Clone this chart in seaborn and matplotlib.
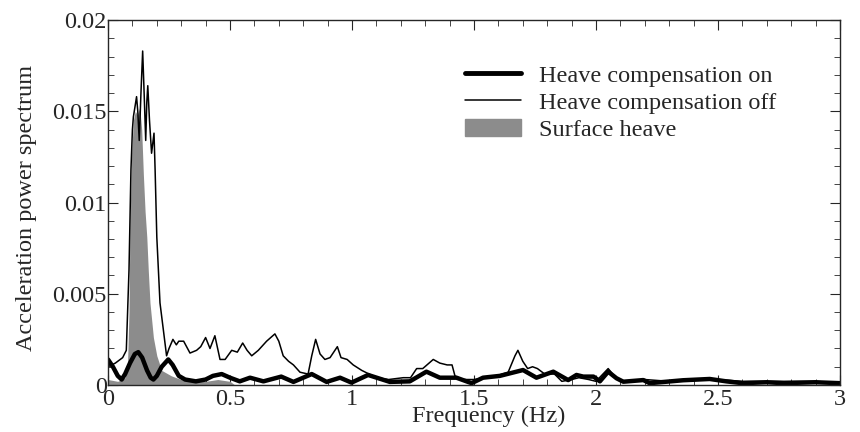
import seaborn as sns
import matplotlib
matplotlib.use('Agg')
import matplotlib.pyplot as plt
from matplotlib.ticker import MultipleLocator, FuncFormatter
from matplotlib.patches import Patch
from matplotlib.lines import Line2D

# heave compensation off (thin line)
off_f = [0.00, 0.03, 0.06, 0.075, 0.086, 0.094, 0.100, 0.104, 0.110, 0.117, 0.122, 0.128,
         0.135, 0.142, 0.148, 0.1545, 0.159, 0.163, 0.170, 0.1785, 0.1885, 0.193, 0.200,
         0.213, 0.227, 0.240, 0.250, 0.266, 0.28, 0.29, 0.31, 0.336, 0.363, 0.38, 0.40,
         0.418, 0.438, 0.459, 0.48, 0.507, 0.53, 0.552, 0.57, 0.589, 0.616, 0.65, 0.684,
         0.70, 0.718, 0.74, 0.76, 0.787, 0.82, 0.835, 0.851, 0.869, 0.889, 0.91, 0.94,
         0.955, 0.98, 1.005, 1.04, 1.07, 1.10, 1.15, 1.21, 1.24, 1.265, 1.29, 1.333,
         1.36, 1.39, 1.41, 1.422, 1.45, 1.50, 1.55, 1.593, 1.64, 1.668, 1.68, 1.70,
         1.72, 1.74, 1.76, 1.79, 1.83, 1.86, 1.90, 1.93, 1.97, 2.00, 2.05, 2.08, 2.12,
         2.2, 2.3, 2.4, 2.5, 2.6, 2.7, 2.8, 2.9, 3.0]
off_v = [0.0010, 0.0012, 0.0015, 0.0019, 0.0063, 0.0118, 0.0140, 0.0147, 0.0152, 0.0158,
         0.0150, 0.0134, 0.0160, 0.0183, 0.0160, 0.0134, 0.0155, 0.0164, 0.0145, 0.0127,
         0.0138, 0.0118, 0.0081, 0.0045, 0.0030, 0.0016, 0.0020, 0.0025, 0.0022, 0.0024,
         0.0024, 0.00175, 0.0019, 0.0021, 0.0026, 0.0020, 0.0027, 0.0014, 0.0014, 0.0019,
         0.0018, 0.0023, 0.0019, 0.0016, 0.0019, 0.0024, 0.0028, 0.0024, 0.0016, 0.0013,
         0.0011, 0.0007, 0.0006, 0.0016, 0.0025, 0.0017, 0.0014, 0.0015, 0.0021, 0.0015,
         0.0014, 0.0011, 0.0008, 0.0006, 0.0004, 0.0003, 0.0004, 0.0004, 0.0009, 0.0009,
         0.0014, 0.0012, 0.0011, 0.0011, 0.0005, 0.0003, 0.0003, 0.0004, 0.0005, 0.0007,
         0.0016, 0.0019, 0.0013, 0.0009, 0.0010, 0.0009, 0.0006, 0.0006, 0.0002, 0.0003,
         0.0004, 0.0003, 0.0002, 0.0009, 0.0004, 0.0002, 0.0003, 0.0002, 0.0003, 0.0003,
         0.0002, 0.0002, 0.0002, 0.0002, 0.0001]

# heave compensation on (thick line)
on_f = [0.00, 0.02, 0.04, 0.056, 0.07, 0.09, 0.11, 0.124, 0.14, 0.16, 0.175, 0.186, 0.20,
        0.22, 0.247, 0.265, 0.29, 0.316, 0.36, 0.40, 0.43, 0.466, 0.50, 0.54, 0.582,
        0.637, 0.71, 0.76, 0.835, 0.896, 0.951, 0.998, 1.066, 1.155, 1.237, 1.305, 1.36,
        1.428, 1.49, 1.537, 1.606, 1.701, 1.756, 1.825, 1.886, 1.92, 1.948, 1.99, 2.016,
        2.05, 2.084, 2.112, 2.194, 2.22, 2.357, 2.466, 2.534, 2.6, 2.7, 2.77, 2.9, 3.0]
on_v = [0.0014, 0.0010, 0.0005, 0.0003, 0.0006, 0.0012, 0.0017, 0.0018, 0.0015, 0.0008,
        0.0004, 0.0003, 0.0005, 0.0010, 0.0014, 0.0011, 0.0005, 0.0003, 0.0002, 0.0003,
        0.0005, 0.0006, 0.0004, 0.0002, 0.0004, 0.0002, 0.00046, 0.00017, 0.0006, 0.00017,
        0.0004, 0.00013, 0.00055, 0.00017, 0.0002, 0.00073, 0.0004, 0.0004, 0.0001, 0.0004,
        0.0005, 0.00082, 0.0004, 0.00073, 0.00027, 0.00055, 0.00046, 0.00046, 0.0002,
        0.00073, 0.00037, 0.00018, 0.00027, 0.0001, 0.00026, 0.00033, 0.0002, 0.0001,
        0.00015, 0.0001, 0.00015, 0.0001]

# surface heave (grey area)
heave_f = [0.0, 0.04, 0.07, 0.08, 0.086, 0.09, 0.097, 0.104, 0.112, 0.12, 0.13, 0.138,
           0.145, 0.152, 0.159, 0.165, 0.172, 0.186, 0.2, 0.22, 0.26, 0.30, 0.35, 0.40,
           0.45, 0.50, 0.52]
heave_v = [0.0003, 0.0002, 0.0004, 0.0012, 0.0040, 0.0090, 0.0127, 0.0145, 0.0150, 0.0148,
           0.0152, 0.0140, 0.0115, 0.0095, 0.0081, 0.0063, 0.0045, 0.0026, 0.0016, 0.0008,
           0.0005, 0.0003, 0.0002, 0.0002, 0.0003, 0.0002, 0.0]

sns.set_style("ticks")
plt.rcParams['font.family'] = ['Liberation Serif', 'DejaVu Serif']

fig, ax = plt.subplots(figsize=(8.6, 4.32), dpi=100)
fig.subplots_adjust(left=0.1256, right=0.9767, top=0.9537, bottom=0.1088)

ax.fill_between(heave_f, heave_v, 0, color='#8c8c8c', lw=0)
sns.lineplot(x=off_f, y=off_v, ax=ax, color='black', lw=1.1)
sns.lineplot(x=on_f, y=on_v, ax=ax, color='black', lw=3.2)

ax.set_xlim(0, 3)
ax.set_ylim(0, 0.02)
ax.xaxis.set_major_locator(MultipleLocator(0.5))
ax.xaxis.set_minor_locator(MultipleLocator(0.1))
ax.yaxis.set_major_locator(MultipleLocator(0.005))
ax.yaxis.set_minor_locator(MultipleLocator(0.001))
fmt = FuncFormatter(lambda v, p: '%g' % round(v, 4))
ax.xaxis.set_major_formatter(fmt)
ax.yaxis.set_major_formatter(fmt)
ax.tick_params(which='both', direction='in', top=True, right=True, labelsize=17.5, pad=3)
ax.tick_params(axis='y', pad=1)
ax.tick_params(which='major', length=7)
ax.tick_params(which='minor', length=4)
for s in ax.spines.values():
    s.set_linewidth(1)

ax.set_xlabel('Frequency (Hz)', fontsize=17.5)
ax.set_ylabel('Acceleration power spectrum', fontsize=17.5)
ax.xaxis.set_label_coords(0.52, -0.056)
ax.yaxis.set_label_coords(-0.097, 0.486)

handles = [Line2D([], [], color='black', lw=3.5),
           Line2D([], [], color='black', lw=1.1),
           Patch(color='#8c8c8c')]
ax.legend(handles, ['Heave compensation on', 'Heave compensation off', 'Surface heave'],
          loc='upper left', bbox_to_anchor=(0.488, 0.878), frameon=False, fontsize=17.5,
          borderpad=0, borderaxespad=0, handlelength=2.3, handletextpad=0.75,
          labelspacing=0.22)

fig.savefig('out.png', dpi=100)
